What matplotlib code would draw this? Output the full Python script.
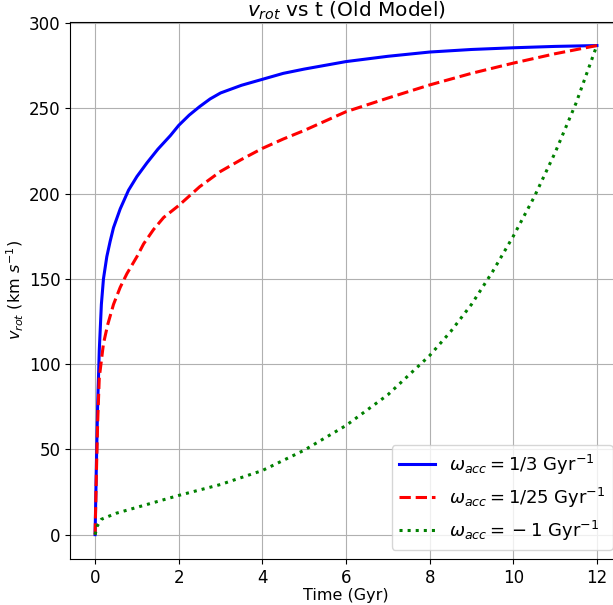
"""Rotation velocity vs time for three accretion rates (old model)."""
import matplotlib
matplotlib.use("Agg")
import matplotlib.pyplot as plt

# values
T_FAST = [0, 0.03, 0.06, 0.1, 0.15, 0.2, 0.28, 0.36, 0.44, 0.6, 0.8, 1.0, 1.24,
          1.5, 1.8, 2.0, 2.25, 2.5, 2.75, 3.0, 3.5, 4.0, 4.5, 5.0, 6.0, 7.0, 8.0,
          9.0, 10.0, 11.0, 12.0]
V_FAST = [0, 40, 75, 108, 135, 150, 163, 172, 180, 191, 202, 210, 218,
          226, 234, 240, 246, 251, 255.5, 259, 263.5, 267, 270.5, 273, 277.4,
          280.5, 283, 284.5, 285.5, 286.3, 286.8]

T_SLOW = [0, 0.03, 0.06, 0.1, 0.2, 0.3, 0.44, 0.6, 0.76, 1.0, 1.16, 1.4, 1.64,
          2.0, 2.5, 3.0, 3.5, 4.0, 4.5, 5.0, 6.0, 7.0, 8.0, 9.0, 10.0, 11.0, 12.0]
V_SLOW = [0, 35, 65, 92, 112, 123, 135, 145, 153, 163, 170.5, 179, 186,
          193, 204, 213, 220, 226.5, 232, 237, 248, 256, 263.7, 270.5, 276.5,
          282, 286.8]

T_NEG = [0, 0.05, 0.15, 0.5, 1.0, 2.0, 3.0, 4.0, 5.0, 6.0, 7.0, 8.0, 8.5, 9.0,
         9.5, 10.0, 10.5, 11.0, 11.5, 12.0]
V_NEG = [0, 5, 9, 12.5, 16, 23, 29.4, 37.6, 49.5, 64, 82, 105, 119, 135,
         154, 175, 198, 224, 253, 287]

LABELS = [r'$\omega_{acc} = 1/3$ Gyr$^{-1}$',
          r'$\omega_{acc} = 1/25$ Gyr$^{-1}$',
          r'$\omega_{acc} = {}-{} 1$ Gyr$^{-1}$']


def draw_chart():
    """Draw the three curves and save the figure."""
    fig = plt.figure(figsize=(6.13, 6.05), dpi=100)
    ax = fig.add_axes([0.1142, 0.076, 0.9005, 0.8876])

    ax.plot(T_FAST, V_FAST, color='blue', linestyle='-', linewidth=2.2, label=LABELS[0])
    ax.plot(T_SLOW, V_SLOW, color='red', linestyle='--', linewidth=2.2, label=LABELS[1])
    ax.plot(T_NEG, V_NEG, color='green', linestyle=':', linewidth=2.2, label=LABELS[2])

    ax.set_xlim(-0.6, 12.6)
    ax.set_ylim(-14.3, 300.6)
    ax.set_xticks(range(0, 13, 2))
    ax.set_yticks(range(0, 301, 50))
    ax.tick_params(labelsize=12)
    ax.grid(True)

    ax.set_xlabel('Time (Gyr)', fontsize=11.5, labelpad=1)
    ax.set_ylabel(r'$v_{rot}$ (km $s^{-1}$)', fontsize=11.5, labelpad=2)
    ax.set_title(r'$v_{rot}$ vs t (Old Model)', fontsize=14.5, pad=3)
    ax.legend(loc='lower right', fontsize=13)

    fig.savefig('out.png', dpi=100)


if __name__ == '__main__':
    draw_chart()
